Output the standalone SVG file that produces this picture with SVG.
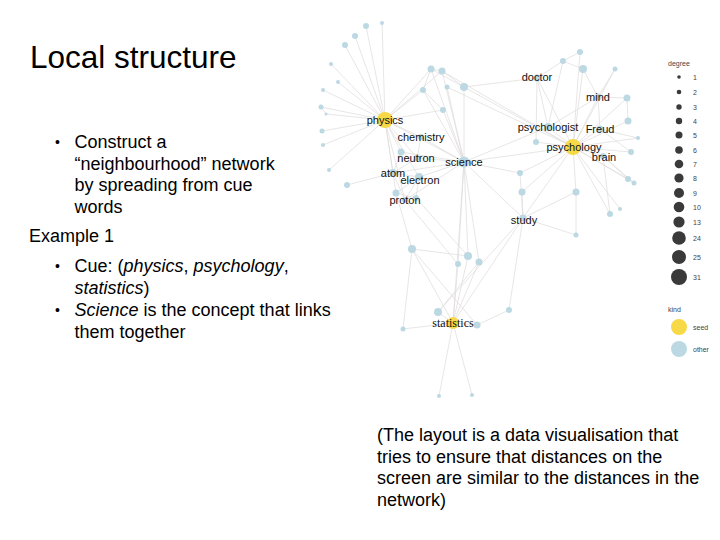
<svg xmlns="http://www.w3.org/2000/svg" width="720" height="540" viewBox="0 0 720 540">
<style>
.t{font-family:"Liberation Sans",Arial,sans-serif;fill:#000}
.main{font-size:18px}
.bul{font-family:"Liberation Sans",Arial,sans-serif;font-size:14px;fill:#000}
.title{font-size:31.5px}
.lbl{font-family:"Liberation Sans",Arial,sans-serif;font-size:11px;fill:#111;text-anchor:middle}
.ser{font-family:"Liberation Serif","Times New Roman",serif;font-size:12px;fill:#111;text-anchor:middle}
.e line{stroke:#e0dcdc;stroke-width:0.75}
.o{fill:#bcd9e3}
.s{fill:#f7d847}
.lg{fill:#3a3a3a}
.lt{font-family:"Liberation Sans",Arial,sans-serif;font-size:7px;fill:#444}
</style>
<rect width="720" height="540" fill="#fff"/>

<g id="text">
<text class="t title" x="30" y="68">Local structure</text>
<text class="bul" x="55" y="147">•</text>
<text class="t main" x="74.5" y="148">Construct a</text>
<text class="t main" x="74.5" y="169.5">“neighbourhood” network</text>
<text class="t main" x="74.5" y="191">by spreading from cue</text>
<text class="t main" x="74.5" y="212.5">words</text>
<text class="t main" x="29" y="242">Example 1</text>
<text class="bul" x="55" y="271">•</text>
<text class="t main" x="74.5" y="272">Cue: (<tspan font-style="italic">physics</tspan>, <tspan font-style="italic">psychology</tspan>,</text>
<text class="t main" x="74.5" y="293.5"><tspan font-style="italic">statistics</tspan>)</text>
<text class="bul" x="55" y="315">•</text>
<text class="t main" x="74.5" y="316"><tspan font-style="italic">Science</tspan> is the concept that links</text>
<text class="t main" x="74.5" y="337.5">them together</text>
<text class="t main" x="377" y="441">(The layout is a data visualisation that</text>
<text class="t main" x="377" y="462.5">tries to ensure that distances on the</text>
<text class="t main" x="377" y="484">screen are similar to the distances in the</text>
<text class="t main" x="377" y="505.5">network)</text>
</g>

<g id="connectors" class="e">
<line x1="385" y1="120" x2="366" y2="26"/>
<line x1="385" y1="120" x2="382" y2="23"/>
<line x1="385" y1="120" x2="355" y2="36"/>
<line x1="385" y1="120" x2="345" y2="45"/>
<line x1="385" y1="120" x2="331" y2="64"/>
<line x1="385" y1="120" x2="338" y2="82"/>
<line x1="385" y1="120" x2="323" y2="90"/>
<line x1="385" y1="120" x2="321" y2="107"/>
<line x1="385" y1="120" x2="326" y2="114"/>
<line x1="385" y1="120" x2="322" y2="131"/>
<line x1="385" y1="120" x2="323" y2="145"/>
<line x1="385" y1="120" x2="329" y2="170"/>
<line x1="385" y1="120" x2="431" y2="69"/>
<line x1="385" y1="120" x2="442" y2="71"/>
<line x1="385" y1="120" x2="423" y2="90"/>
<line x1="385" y1="120" x2="443" y2="110"/>
<line x1="385" y1="120" x2="421" y2="137"/>
<line x1="385" y1="120" x2="417" y2="158"/>
<line x1="385" y1="120" x2="401" y2="152"/>
<line x1="385" y1="120" x2="393" y2="173"/>
<line x1="385" y1="120" x2="419" y2="177"/>
<line x1="385" y1="120" x2="405" y2="200"/>
<line x1="385" y1="120" x2="464" y2="162"/>
<line x1="385" y1="120" x2="396" y2="193"/>
<line x1="321" y1="107" x2="326" y2="114"/>
<line x1="347" y1="185" x2="393" y2="173"/>
<line x1="431" y1="69" x2="442" y2="71"/>
<line x1="431" y1="69" x2="423" y2="90"/>
<line x1="442" y1="71" x2="464" y2="87"/>
<line x1="464" y1="87" x2="537" y2="78"/>
<line x1="431" y1="69" x2="464" y2="162"/>
<line x1="442" y1="71" x2="464" y2="162"/>
<line x1="423" y1="90" x2="464" y2="162"/>
<line x1="447" y1="87" x2="464" y2="162"/>
<line x1="464" y1="87" x2="464" y2="162"/>
<line x1="443" y1="110" x2="464" y2="162"/>
<line x1="431" y1="69" x2="573" y2="147"/>
<line x1="442" y1="71" x2="573" y2="147"/>
<line x1="447" y1="87" x2="573" y2="147"/>
<line x1="423" y1="90" x2="443" y2="110"/>
<line x1="537" y1="78" x2="548" y2="127"/>
<line x1="537" y1="78" x2="573" y2="147"/>
<line x1="537" y1="78" x2="536" y2="142"/>
<line x1="537" y1="78" x2="563" y2="61"/>
<line x1="563" y1="61" x2="580" y2="52"/>
<line x1="563" y1="61" x2="548" y2="127"/>
<line x1="580" y1="52" x2="573" y2="147"/>
<line x1="583" y1="69" x2="573" y2="147"/>
<line x1="583" y1="69" x2="598" y2="97"/>
<line x1="583" y1="69" x2="563" y2="61"/>
<line x1="615" y1="69" x2="573" y2="147"/>
<line x1="615" y1="69" x2="598" y2="97"/>
<line x1="598" y1="97" x2="573" y2="147"/>
<line x1="598" y1="97" x2="627" y2="98"/>
<line x1="627" y1="98" x2="628" y2="121"/>
<line x1="598" y1="97" x2="548" y2="127"/>
<line x1="598" y1="97" x2="600" y2="129"/>
<line x1="628" y1="121" x2="573" y2="147"/>
<line x1="627" y1="98" x2="573" y2="147"/>
<line x1="573" y1="147" x2="548" y2="127"/>
<line x1="573" y1="147" x2="600" y2="129"/>
<line x1="573" y1="147" x2="603" y2="156"/>
<line x1="573" y1="147" x2="638" y2="138"/>
<line x1="573" y1="147" x2="631" y2="152"/>
<line x1="573" y1="147" x2="628" y2="179"/>
<line x1="573" y1="147" x2="634" y2="183"/>
<line x1="573" y1="147" x2="610" y2="214"/>
<line x1="573" y1="147" x2="620" y2="209"/>
<line x1="573" y1="147" x2="576" y2="192"/>
<line x1="573" y1="147" x2="522" y2="192"/>
<line x1="573" y1="147" x2="523" y2="218"/>
<line x1="573" y1="147" x2="464" y2="162"/>
<line x1="573" y1="147" x2="520" y2="173"/>
<line x1="573" y1="147" x2="536" y2="142"/>
<line x1="603" y1="156" x2="628" y2="179"/>
<line x1="603" y1="156" x2="634" y2="183"/>
<line x1="603" y1="156" x2="610" y2="214"/>
<line x1="600" y1="129" x2="631" y2="152"/>
<line x1="600" y1="129" x2="638" y2="138"/>
<line x1="464" y1="162" x2="520" y2="173"/>
<line x1="464" y1="162" x2="523" y2="218"/>
<line x1="464" y1="162" x2="421" y2="137"/>
<line x1="464" y1="162" x2="417" y2="158"/>
<line x1="464" y1="162" x2="393" y2="173"/>
<line x1="464" y1="162" x2="419" y2="177"/>
<line x1="464" y1="162" x2="405" y2="200"/>
<line x1="464" y1="162" x2="468" y2="256"/>
<line x1="464" y1="162" x2="458" y2="264"/>
<line x1="464" y1="162" x2="479" y2="262"/>
<line x1="464" y1="162" x2="453" y2="323"/>
<line x1="464" y1="162" x2="401" y2="152"/>
<line x1="464" y1="162" x2="548" y2="127"/>
<line x1="421" y1="137" x2="417" y2="158"/>
<line x1="393" y1="173" x2="419" y2="177"/>
<line x1="393" y1="173" x2="405" y2="200"/>
<line x1="419" y1="177" x2="405" y2="200"/>
<line x1="417" y1="158" x2="393" y2="173"/>
<line x1="396" y1="193" x2="416" y2="198"/>
<line x1="401" y1="152" x2="393" y2="173"/>
<line x1="396" y1="193" x2="419" y2="177"/>
<line x1="416" y1="198" x2="419" y2="177"/>
<line x1="523" y1="218" x2="520" y2="173"/>
<line x1="523" y1="218" x2="522" y2="192"/>
<line x1="523" y1="218" x2="576" y2="192"/>
<line x1="523" y1="218" x2="576" y2="235"/>
<line x1="523" y1="218" x2="453" y2="323"/>
<line x1="523" y1="218" x2="509" y2="310"/>
<line x1="523" y1="218" x2="438" y2="312"/>
<line x1="576" y1="192" x2="576" y2="235"/>
<line x1="412" y1="249" x2="468" y2="256"/>
<line x1="412" y1="249" x2="453" y2="323"/>
<line x1="412" y1="249" x2="403" y2="329"/>
<line x1="412" y1="249" x2="477" y2="325"/>
<line x1="412" y1="249" x2="396" y2="193"/>
<line x1="453" y1="323" x2="438" y2="312"/>
<line x1="453" y1="323" x2="477" y2="325"/>
<line x1="453" y1="323" x2="403" y2="329"/>
<line x1="453" y1="323" x2="439" y2="396"/>
<line x1="453" y1="323" x2="472" y2="395"/>
<line x1="453" y1="323" x2="468" y2="256"/>
<line x1="453" y1="323" x2="458" y2="264"/>
<line x1="453" y1="323" x2="479" y2="262"/>
<line x1="477" y1="325" x2="509" y2="310"/>
<line x1="438" y1="312" x2="479" y2="262"/>
<line x1="416" y1="198" x2="468" y2="256"/>
<line x1="405" y1="200" x2="458" y2="264"/>
</g>

<g id="n-u1"><circle class="o" cx="366" cy="26" r="3"/></g>
<g id="n-u2"><circle class="o" cx="382" cy="23" r="2"/></g>
<g id="n-u3"><circle class="o" cx="355" cy="36" r="3"/></g>
<g id="n-u4"><circle class="o" cx="345" cy="45" r="3"/></g>
<g id="n-u5"><circle class="o" cx="331" cy="64" r="2"/></g>
<g id="n-u6"><circle class="o" cx="338" cy="82" r="2"/></g>
<g id="n-u7"><circle class="o" cx="323" cy="90" r="2"/></g>
<g id="n-u8"><circle class="o" cx="321" cy="107" r="2.5"/></g>
<g id="n-u9"><circle class="o" cx="326" cy="114" r="1.5"/></g>
<g id="n-u10"><circle class="o" cx="322" cy="131" r="2.5"/></g>
<g id="n-u11"><circle class="o" cx="323" cy="145" r="2"/></g>
<g id="n-u12"><circle class="o" cx="329" cy="170" r="2"/></g>
<g id="n-u13"><circle class="o" cx="347" cy="185" r="3"/></g>
<g id="n-u14"><circle class="o" cx="431" cy="69" r="3.5"/></g>
<g id="n-u15"><circle class="o" cx="442" cy="71" r="3.5"/></g>
<g id="n-u16"><circle class="o" cx="423" cy="90" r="3"/></g>
<g id="n-u17"><circle class="o" cx="447" cy="87" r="2.5"/></g>
<g id="n-u18"><circle class="o" cx="464" cy="87" r="4"/></g>
<g id="n-u19"><circle class="o" cx="443" cy="110" r="3"/></g>
<g id="n-u20"><circle class="o" cx="401" cy="152" r="3.5"/></g>
<g id="n-u21"><circle class="o" cx="396" cy="193" r="3.5"/></g>
<g id="n-u22"><circle class="o" cx="416" cy="198" r="3"/></g>
<g id="n-u23"><circle class="o" cx="563" cy="61" r="3"/></g>
<g id="n-u24"><circle class="o" cx="580" cy="52" r="3"/></g>
<g id="n-u25"><circle class="o" cx="583" cy="69" r="4"/></g>
<g id="n-u26"><circle class="o" cx="615" cy="69" r="2.5"/></g>
<g id="n-u27"><circle class="o" cx="627" cy="98" r="3.5"/></g>
<g id="n-u28"><circle class="o" cx="628" cy="121" r="3.5"/></g>
<g id="n-u29"><circle class="o" cx="536" cy="142" r="3"/></g>
<g id="n-u30"><circle class="o" cx="638" cy="138" r="2"/></g>
<g id="n-u31"><circle class="o" cx="631" cy="152" r="3"/></g>
<g id="n-u32"><circle class="o" cx="628" cy="179" r="3"/></g>
<g id="n-u33"><circle class="o" cx="634" cy="183" r="2.5"/></g>
<g id="n-u34"><circle class="o" cx="610" cy="214" r="3"/></g>
<g id="n-u35"><circle class="o" cx="620" cy="209" r="2"/></g>
<g id="n-u36"><circle class="o" cx="520" cy="173" r="3"/></g>
<g id="n-u37"><circle class="o" cx="522" cy="192" r="3.5"/></g>
<g id="n-u38"><circle class="o" cx="576" cy="192" r="3.5"/></g>
<g id="n-u39"><circle class="o" cx="576" cy="235" r="2.5"/></g>
<g id="n-u40"><circle class="o" cx="412" cy="249" r="4"/></g>
<g id="n-u41"><circle class="o" cx="468" cy="256" r="4"/></g>
<g id="n-u42"><circle class="o" cx="458" cy="264" r="3"/></g>
<g id="n-u43"><circle class="o" cx="479" cy="262" r="3.5"/></g>
<g id="n-u44"><circle class="o" cx="438" cy="312" r="4"/></g>
<g id="n-u45"><circle class="o" cx="477" cy="325" r="3.5"/></g>
<g id="n-u46"><circle class="o" cx="509" cy="310" r="3"/></g>
<g id="n-u47"><circle class="o" cx="403" cy="329" r="2.5"/></g>
<g id="n-u48"><circle class="o" cx="439" cy="396" r="2"/></g>
<g id="n-u49"><circle class="o" cx="472" cy="395" r="2"/></g>

<g id="n-science"><circle class="o" cx="464" cy="162" r="5.5"/><text class="lbl" x="464" y="166">science</text></g>
<g id="n-doctor"><circle class="o" cx="537" cy="78" r="3.5"/><text class="lbl" x="537" y="81">doctor</text></g>
<g id="n-mind"><circle class="o" cx="598" cy="97" r="3.5"/><text class="lbl" x="598" y="101">mind</text></g>
<g id="n-psychologist"><circle class="o" cx="548" cy="127" r="4"/><text class="lbl" x="548" y="131">psychologist</text></g>
<g id="n-freud"><circle class="o" cx="600" cy="129" r="3.5"/><text class="lbl" x="600" y="133">Freud</text></g>
<g id="n-chemistry"><circle class="o" cx="421" cy="137" r="3"/><text class="lbl" x="421" y="141">chemistry</text></g>
<g id="n-neutron"><circle class="o" cx="417" cy="158" r="3"/><text class="lbl" x="416" y="162">neutron</text></g>
<g id="n-atom"><circle class="o" cx="393" cy="173" r="4"/><text class="lbl" x="393" y="177">atom</text></g>
<g id="n-electron"><circle class="o" cx="419" cy="177" r="4"/><text class="lbl" x="420" y="184">electron</text></g>
<g id="n-proton"><circle class="o" cx="405" cy="200" r="3"/><text class="lbl" x="405" y="204">proton</text></g>
<g id="n-study"><circle class="o" cx="523" cy="218" r="3.5"/><text class="lbl" x="524" y="224">study</text></g>
<g id="n-physics"><circle class="s" cx="385" cy="120" r="8"/><text class="lbl" x="385" y="124">physics</text></g>
<g id="n-psychology"><circle class="s" cx="573" cy="147" r="8"/><text class="lbl" x="574" y="151">psychology</text></g>
<g id="n-brain"><circle class="o" cx="603" cy="156" r="3"/><text class="lbl" x="604" y="161">brain</text></g>
<g id="n-statistics"><circle class="s" cx="453" cy="323" r="6"/><text class="ser" x="453" y="327">statistics</text></g>

<g id="legend">
<text class="lt" x="668" y="66">degree</text>
<circle class="lg" cx="679" cy="77" r="1.8"/><text class="lt" x="693" y="79.5">1</text>
<circle class="lg" cx="679" cy="92" r="2.3"/><text class="lt" x="693" y="94.5">2</text>
<circle class="lg" cx="679" cy="107" r="2.7"/><text class="lt" x="693" y="109.5">3</text>
<circle class="lg" cx="679" cy="121" r="3.2"/><text class="lt" x="693" y="123.5">4</text>
<circle class="lg" cx="679" cy="135" r="3.5"/><text class="lt" x="693" y="137.5">5</text>
<circle class="lg" cx="679" cy="150" r="3.8"/><text class="lt" x="693" y="152.5">6</text>
<circle class="lg" cx="679" cy="164" r="4.3"/><text class="lt" x="693" y="166.5">7</text>
<circle class="lg" cx="679" cy="178" r="4.6"/><text class="lt" x="693" y="180.5">8</text>
<circle class="lg" cx="679" cy="193" r="5"/><text class="lt" x="693" y="195.5">9</text>
<circle class="lg" cx="679" cy="207" r="5.3"/><text class="lt" x="693" y="209.5">10</text>
<circle class="lg" cx="679" cy="222" r="5.6"/><text class="lt" x="693" y="224.5">13</text>
<circle class="lg" cx="679" cy="238" r="6.8"/><text class="lt" x="693" y="240.5">24</text>
<circle class="lg" cx="679" cy="257" r="7"/><text class="lt" x="693" y="259.5">25</text>
<circle class="lg" cx="679" cy="277" r="8"/><text class="lt" x="693" y="279.5">31</text>
<text class="lt" x="668" y="312">kind</text>
<circle class="s" cx="679" cy="327" r="8"/><text class="lt" x="693" y="329.5">seed</text>
<circle class="o" cx="679" cy="349" r="8"/><text class="lt" x="693" y="351.5">other</text>
</g>
</svg>
